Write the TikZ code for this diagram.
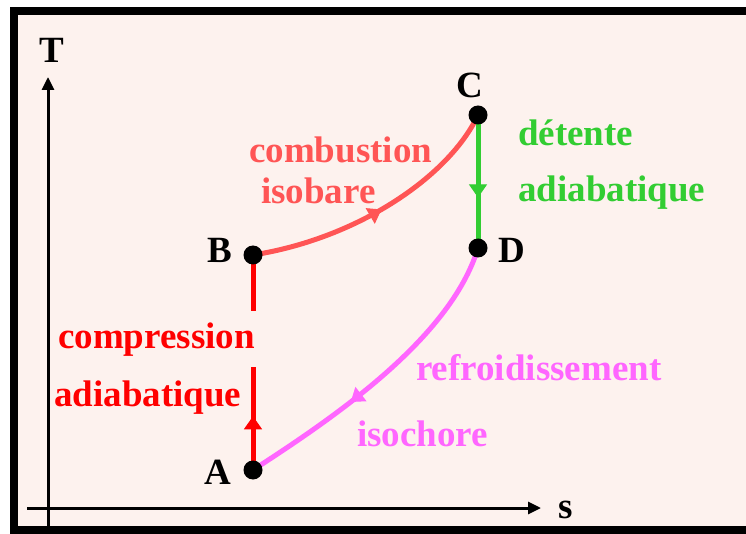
\documentclass[tikz,border=0pt]{standalone}
\usepackage{fontspec}
\setmainfont{Liberation Serif}
\usetikzlibrary{arrows.meta,decorations.markings}
\definecolor{bgpink}{RGB}{253,242,238}
\definecolor{cred}{RGB}{255,0,0}
\definecolor{csalmon}{RGB}{255,85,85}
\definecolor{cgreen}{RGB}{50,205,50}
\definecolor{cmag}{RGB}{255,102,255}
\tikzset{
  pt/.style={circle,fill=black,inner sep=0pt,minimum size=19pt},
  lab/.style={font=\fontsize{37}{37}\selectfont\bfseries,inner sep=0pt,anchor=base},
  txt/.style={font=\fontsize{37}{37}\selectfont\bfseries,inner sep=0pt,anchor=base west},
  axis/.style={line width=3pt,-{Triangle[length=13pt,width=12pt]}},
  proc/.style={line width=5pt},
  midarrow/.style={postaction={decorate},decoration={markings,
     mark=at position #1 with {\arrow[line width=1pt]{Triangle[length=13pt,width=18pt]}}}}
}
\begin{document}
\begin{tikzpicture}[x=1pt,y=-1pt]
\useasboundingbox (0,0) rectangle (746,534);
\fill[white] (0,0) rectangle (746,534);
\draw[line width=8pt,fill=bgpink] (14,11) rectangle (770,530);
% axes
\coordinate (o1) at (48,526);
\coordinate (o2) at (48,77);
\coordinate (h1) at (27,508);
\coordinate (h2) at (541,508);
\draw[axis] (o1) -- (o2);
\draw[axis] (h1) -- (h2);
\node[lab] (T) at (52,63) {T};
\node[lab] (s) at (566,518) {s};
% points
\coordinate (pA) at (253,470);
\coordinate (pB) at (253,255);
\coordinate (pC) at (478,115);
\coordinate (pD) at (478,248);
% processes
\draw[proc,cred,midarrow=0.25] (pA) -- (pB);
\draw[proc,csalmon,midarrow=0.5] (pB) .. controls (360,238) and (450,175) .. (pC);
\draw[proc,cgreen,midarrow=0.62] (pC) -- (pD);
\draw[proc,cmag,midarrow=0.63] (pD) .. controls (450,340) and (330,420) .. (pA);
\node[pt] (A) at (pA) {};
\node[pt] (B) at (pB) {};
\node[pt] (C) at (pC) {};
\node[pt] (D) at (pD) {};
\node[lab] (lA) at (218,484) {A};
\node[lab] (lB) at (220,263) {B};
\node[lab] (lC) at (470,98) {C};
\node[lab] (lD) at (512,263) {D};
% labels
\node[txt,csalmon] (t1) at (249,163) {combustion};
\node[txt,csalmon] (t2) at (261,204) {isobare};
\node[txt,cgreen] (t3) at (518,146) {détente};
\node[txt,cgreen] (t4) at (518,202) {adiabatique};
\node[txt,cred,fill=bgpink,inner ysep=11pt,inner xsep=6pt] (t5) at (52,348) {compression};
\node[txt,cred] (t6) at (54,406) {adiabatique};
\node[txt,cmag] (t7) at (416,380) {refroidissement};
\node[txt,cmag] (t8) at (357,446) {isochore};
\end{tikzpicture}
\end{document}
